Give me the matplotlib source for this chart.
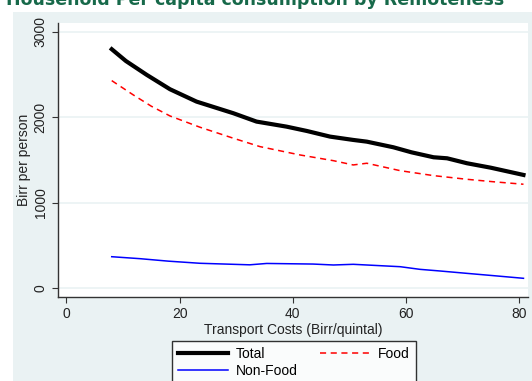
import matplotlib
matplotlib.use("Agg")
import matplotlib.pyplot as plt
from matplotlib.patches import Rectangle

plt.rcParams["font.family"] = ["Liberation Sans", "DejaVu Sans"]

# transport cost (Birr/quintal) and consumption (Birr per person)
total_x = [8.0, 10.5, 14.2, 18.3, 23.0, 29.5, 33.6, 38.9, 42.5, 46.6, 50.7, 53.1,
           57.8, 61.0, 64.9, 67.3, 70.8, 75.0, 80.8]
total_y = [2798, 2660, 2497, 2329, 2184, 2048, 1950, 1891, 1840, 1774, 1735, 1715,
           1649, 1590, 1532, 1520, 1462, 1410, 1325]

food_x = [8.0, 11.8, 15.0, 18.3, 23.6, 29.5, 34.2, 41.3, 47.2, 50.7, 53.1, 59.0,
          64.9, 70.8, 75.5, 80.8]
food_y = [2430, 2263, 2130, 2016, 1884, 1755, 1657, 1559, 1492, 1442, 1462, 1375,
          1317, 1274, 1245, 1216]

nonfood_x = [8.0, 13.0, 18.0, 23.6, 32.4, 35.4, 43.6, 47.2, 50.7, 59.0, 62.5,
             66.0, 70.8, 75.5, 80.8]
nonfood_y = [367, 344, 315, 290, 272, 288, 281, 270, 278, 250, 219, 200, 172, 145, 114]

y_ticks = [0, 1000, 2000, 3000]
x_ticks = [0, 20, 40, 60, 80]

bg = "#EAF2F3"

fig = plt.figure(figsize=(5.32, 3.81), dpi=100)
fig.patch.set_facecolor("white")
fig.patches.append(Rectangle((13 / 532, 0), 1, 1 - 12 / 381, transform=fig.transFigure,
                             facecolor=bg, edgecolor="none", zorder=-10))
# title is clipped by the top edge in the original
fig.text(0.48, 1 - 5 / 381, "Household Per capita consumption by Remoteness",
         ha="center", va="baseline", fontsize=12.5, fontweight="bold",
         color="#17694A", family="DejaVu Sans")

ax = fig.add_axes([58 / 532, 1 - 297 / 381, (528 - 58) / 532, (297 - 23) / 381])
ax.set_facecolor("white")

ax.plot(total_x, total_y, color="black", linewidth=3, label="Total")
ax.plot(food_x, food_y, color="red", linewidth=1.1, linestyle=(0, (4, 3)), label="Food")
ax.plot(nonfood_x, nonfood_y, color="blue", linewidth=1.1, label="Non-Food")

ax.set_xlim(-1.5, 81.6)
ax.set_ylim(-105, 3105)
ax.set_yticks(y_ticks)
ax.set_xticks(x_ticks)
ax.yaxis.grid(True, color=bg, linewidth=1.2)
ax.set_axisbelow(True)
for s in ["top", "right"]:
    ax.spines[s].set_visible(False)
for s in ["left", "bottom"]:
    ax.spines[s].set_color("#333333")
    ax.spines[s].set_linewidth(1.0)
ax.tick_params(axis="both", direction="out", length=4, color="#333333",
               labelsize=10, labelcolor="#222222")
for lab in ax.get_yticklabels():
    lab.set_rotation(90)
    lab.set_va("center")
ax.set_xlabel("Transport Costs (Birr/quintal)", fontsize=10, color="#222222", labelpad=1)
ax.set_ylabel("Birr per person", fontsize=10, color="#222222", labelpad=2)

h, l = ax.get_legend_handles_labels()
order = [0, 2, 1]
leg = fig.legend([h[i] for i in order], [l[i] for i in order],
                 loc="upper left", bbox_to_anchor=(172 / 532, 1 - 341 / 381),
                 borderaxespad=0, ncol=2, fontsize=10, frameon=True, fancybox=False,
                 edgecolor="black", handlelength=3.6, columnspacing=1.6,
                 borderpad=0.4, labelspacing=0.25, handletextpad=0.6)
leg.get_frame().set_linewidth(1.0)

fig.savefig("out.png", dpi=100)
